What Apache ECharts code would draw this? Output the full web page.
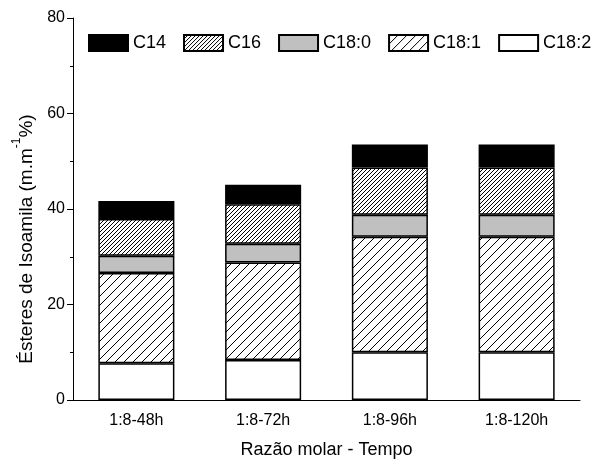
<!DOCTYPE html>
<html>
<head>
<meta charset="utf-8">
<script src="https://cdn.jsdelivr.net/npm/echarts@6/dist/echarts.min.js"></script>
<style>
  html, body { margin: 0; padding: 0; background: #fff; }
  #chart { width: 596px; height: 464px; }
</style>
</head>
<body>
<div id="chart"></div>
<script>
// Isoamyl ester composition by molar ratio / reaction time
const categories = ['1:8-48h', '1:8-72h', '1:8-96h', '1:8-120h'];
const c182 = [7.7, 8.4, 10.0, 10.0];
const c181 = [18.9, 20.4, 24.2, 24.2];
const c180 = [3.6, 3.9, 4.6, 4.6];
const c16 = [7.7, 8.3, 9.9, 9.9];
const c14 = [3.8, 4.1, 4.8, 4.8];
const yTicks = [0, 20, 40, 60, 80];

const FONT = '"Liberation Sans", Arial, sans-serif';

// diagonal "/" hatch tile
function hatch(step, lw) {
  const c = document.createElement('canvas');
  c.width = step; c.height = step;
  const g = c.getContext('2d');
  g.fillStyle = '#fff';
  g.fillRect(0, 0, step, step);
  g.strokeStyle = '#000';
  g.lineWidth = lw;
  g.beginPath();
  g.moveTo(0, step); g.lineTo(step, 0);
  g.moveTo(-step / 2, step / 2); g.lineTo(step / 2, -step / 2);
  g.moveTo(step / 2, step * 1.5); g.lineTo(step * 1.5, step / 2);
  g.stroke();
  return { image: c, repeat: 'repeat' };
}

const styles = {
  'C18:2': '#ffffff',
  'C18:1': hatch(9, 1),
  'C18:0': '#c0c0c0',
  'C16': hatch(4, 1),
  'C14': '#000000'
};

function bar(name, data) {
  return {
    name: name,
    type: 'bar',
    stack: 'total',
    data: data,
    barWidth: '60%',
    itemStyle: { color: styles[name], borderColor: '#000', borderWidth: 1.5 },
    emphasis: { disabled: true }
  };
}

const chart = echarts.init(document.getElementById('chart'), null, { renderer: 'canvas' });
chart.setOption({
  animation: false,
  textStyle: { fontFamily: FONT },
  grid: { left: 73, right: 16, top: 18, bottom: 63, containLabel: false },
  legend: {
    data: ['C14', 'C16', 'C18:0', 'C18:1', 'C18:2'],
    left: 83, top: 29, width: 540,
    itemWidth: 39, itemHeight: 16, itemGap: 17,
    icon: 'rect',
    textStyle: { fontFamily: FONT, fontSize: 18, color: '#000' }
  },
  xAxis: [{
    type: 'category',
    data: categories,
    axisLine: { lineStyle: { color: '#000', width: 1 } },
    axisTick: { alignWithLabel: true, length: 6, lineStyle: { color: '#000' } },
    axisLabel: { fontFamily: FONT, fontSize: 16, color: '#000', margin: 13 },
    name: 'Razão molar - Tempo',
    nameLocation: 'middle',
    nameGap: 41,
    nameTextStyle: { fontFamily: FONT, fontSize: 18, color: '#000' }
  }, {
    type: 'category',
    data: categories,
    position: 'bottom',
    axisLine: { show: false },
    axisTick: { length: 3, lineStyle: { color: '#000' } },
    axisLabel: { show: false }
  }],
  yAxis: {
    type: 'value',
    min: yTicks[0], max: yTicks[yTicks.length - 1], interval: 20,
    axisLine: { show: true, lineStyle: { color: '#000', width: 1 } },
    axisTick: { show: true, length: 6, lineStyle: { color: '#000' } },
    minorTick: { show: true, splitNumber: 2, length: 3, lineStyle: { color: '#000' } },
    splitLine: { show: false },
    axisLabel: { fontFamily: FONT, fontSize: 16, color: '#000', margin: 8 },
    name: '{n|Ésteres de Isoamila (m.m}{s|-1}{n|%)}',
    nameLocation: 'middle',
    nameGap: 34,
    nameRotate: 90,
    nameTextStyle: {
      padding: [0, 60, 0, 0],
      rich: {
        n: { fontFamily: FONT, fontSize: 19, color: '#000', lineHeight: 24, verticalAlign: 'bottom' },
        s: { fontFamily: FONT, fontSize: 12, color: '#000', lineHeight: 26, verticalAlign: 'top' }
      }
    }
  },
  series: [
    bar('C18:2', c182),
    bar('C18:1', c181),
    bar('C18:0', c180),
    bar('C16', c16),
    bar('C14', c14)
  ]
});
</script>
</body>
</html>
